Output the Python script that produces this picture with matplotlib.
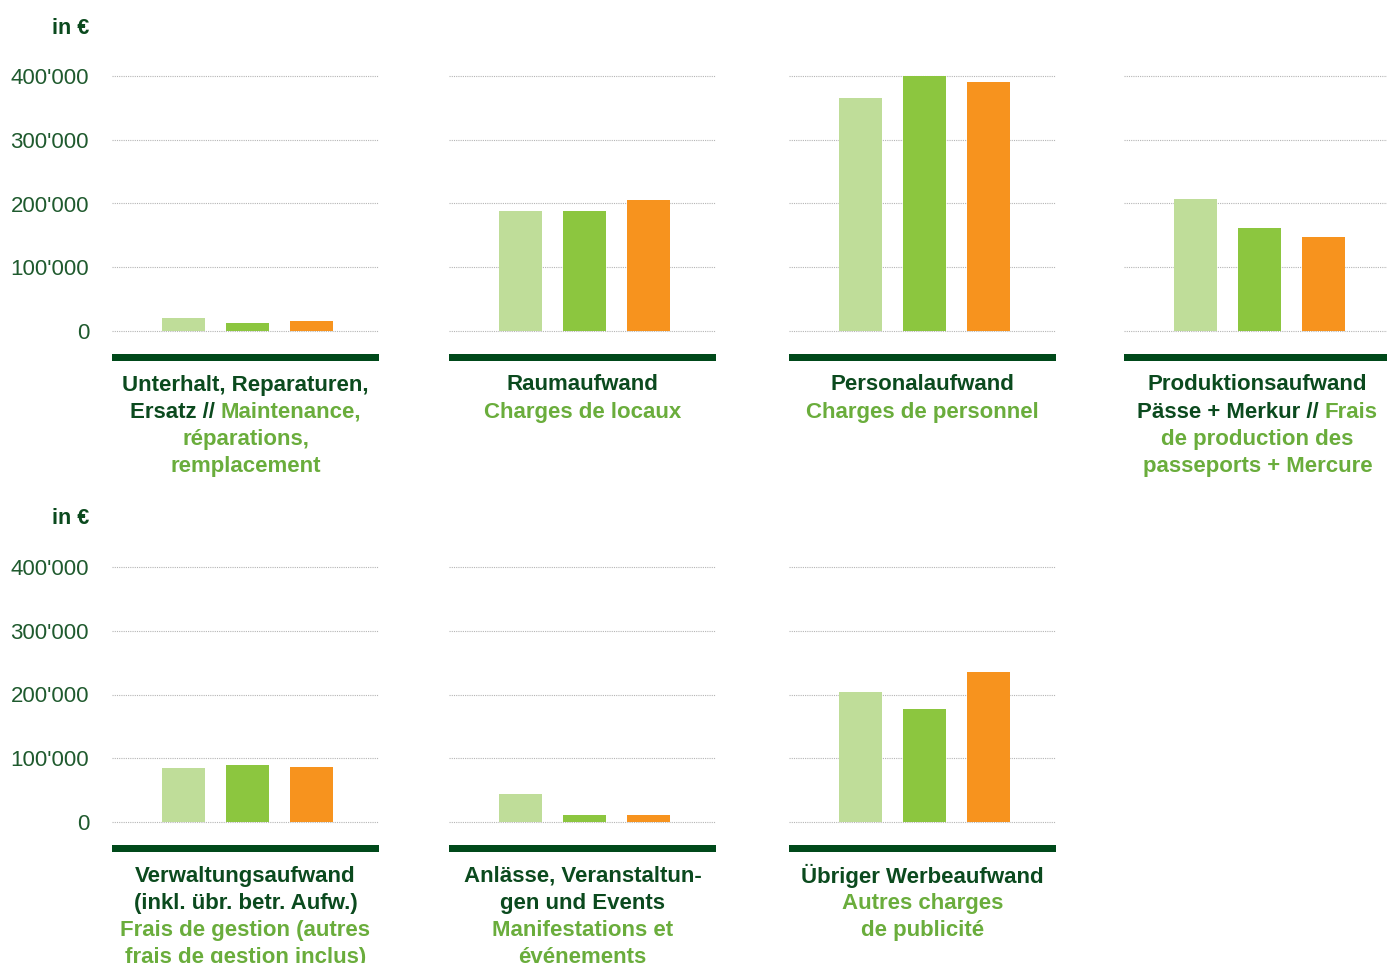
import matplotlib
matplotlib.use("Agg")
import matplotlib.pyplot as plt
from matplotlib.ticker import FuncFormatter

# Daten (in €), drei Jahre pro Kategorie
series_1 = [20000, 188000, 365000, 207000, 85000, 44000, 204000]
series_2 = [12500, 188000, 400000, 162000, 89000, 11000, 177000]
series_3 = [16000, 205000, 390000, 147000, 86000, 11000, 235000]

# Titel: Liste von Zeilen, jede Zeile = Liste von (Text, Farbtyp)
titles = [
    [[("Unterhalt, Reparaturen,", "d")], [("Ersatz //", "d"), ("Maintenance,", "l")],
     [("réparations,", "l")], [("remplacement", "l")]],
    [[("Raumaufwand", "d")], [("Charges de locaux", "l")]],
    [[("Personalaufwand", "d")], [("Charges de personnel", "l")]],
    [[("Produktionsaufwand", "d")], [("Pässe + Merkur //", "d"), ("Frais", "l")],
     [("de production des", "l")], [("passeports + Mercure", "l")]],
    [[("Verwaltungsaufwand", "d")], [("(inkl. übr. betr. Aufw.)", "d")],
     [("Frais de gestion (autres", "l")], [("frais de gestion inclus)", "l")]],
    [[("Anlässe, Veranstaltun-", "d")], [("gen und Events", "d")],
     [("Manifestations et", "l")], [("événements", "l")]],
    [[("Übriger Werbeaufwand", "d")], [("Autres charges", "l")], [("de publicité", "l")]],
]
yticks = [0, 100000, 200000, 300000, 400000]

# Farben
C_LIGHT = "#bfdd99"
C_MID = "#8cc63f"
C_ORANGE = "#f7931e"
C_DARK = "#00491a"
T_DARK = "#0b4a1e"
T_LIGHT = "#6aad3c"
T_TICK = "#1f5a2e"

plt.rcParams["font.family"] = ["Liberation Sans", "DejaVu Sans"]

W, H = 1387, 963
fig = plt.figure(figsize=(W / 100, H / 100), dpi=100)
renderer = fig.canvas.get_renderer()

PX = 0.6375 / 1000  # Pixel pro Euro
col_x = [112, 449, 789, 1124]
col_w = 267
row_zero = [331, 822]
ax_top_off = 261   # Pixel oberhalb Null
ax_bot_off = 31    # Pixel unterhalb Null


def fmt(v, pos):
    return f"{int(v):,}".replace(",", "'")


def text_w(s, size):
    t = fig.text(0, 0, s, fontsize=size, weight="bold")
    w = t.get_window_extent(renderer).width
    t.remove()
    return w


def draw_line(cx, ypix, segments, size=16):
    gap = text_w("x x", size) - text_w("xx", size)
    widths = [text_w(s, size) for s, _ in segments]
    total = sum(widths) + gap * (len(segments) - 1)
    x = cx - total / 2
    for (s, c), w in zip(segments, widths):
        fig.text(x / W, 1 - ypix / H, s, fontsize=size, weight="bold",
                 color=T_DARK if c == "d" else T_LIGHT, ha="left", va="center")
        x += w + gap


for i in range(7):
    row, col = divmod(i, 4)
    z = row_zero[row]
    left = col_x[col]
    bottom_pix = z + ax_bot_off
    top_pix = z - ax_top_off
    ax = fig.add_axes([left / W, 1 - bottom_pix / H, col_w / W, (bottom_pix - top_pix) / H])
    ax.set_xlim(-71 / 64, 2 + (col_w - 71 - 128) / 64)
    ax.set_ylim(-ax_bot_off / PX, ax_top_off / PX)

    vals = [series_1[i], series_2[i], series_3[i]]
    ax.bar([0, 1, 2], vals, width=43 / 64, color=[C_LIGHT, C_MID, C_ORANGE], zorder=2)

    ax.axhspan(-30 / PX, -23 / PX, color=C_DARK, lw=0, zorder=3)

    ax.set_yticks(yticks)
    ax.yaxis.grid(True, linestyle=(0, (1, 1)), color="#b5b5b5", lw=0.8, zorder=0)
    ax.set_xticks([])
    ax.tick_params(axis="y", length=0, pad=16.5, labelsize=16, labelcolor=T_TICK)
    ax.yaxis.set_major_formatter(FuncFormatter(fmt))
    if col != 0:
        ax.set_yticklabels([])
    for sp in ax.spines.values():
        sp.set_visible(False)

    cx = left + col_w / 2
    for k, line in enumerate(titles[i]):
        draw_line(cx, z + 54 + 27 * k, line)

for z in row_zero:
    fig.text(89 / W, 1 - (z - 303) / H, "in €", fontsize=15.5, weight="bold",
             color=T_DARK, ha="right", va="center")

fig.savefig("out.png", dpi=100)
